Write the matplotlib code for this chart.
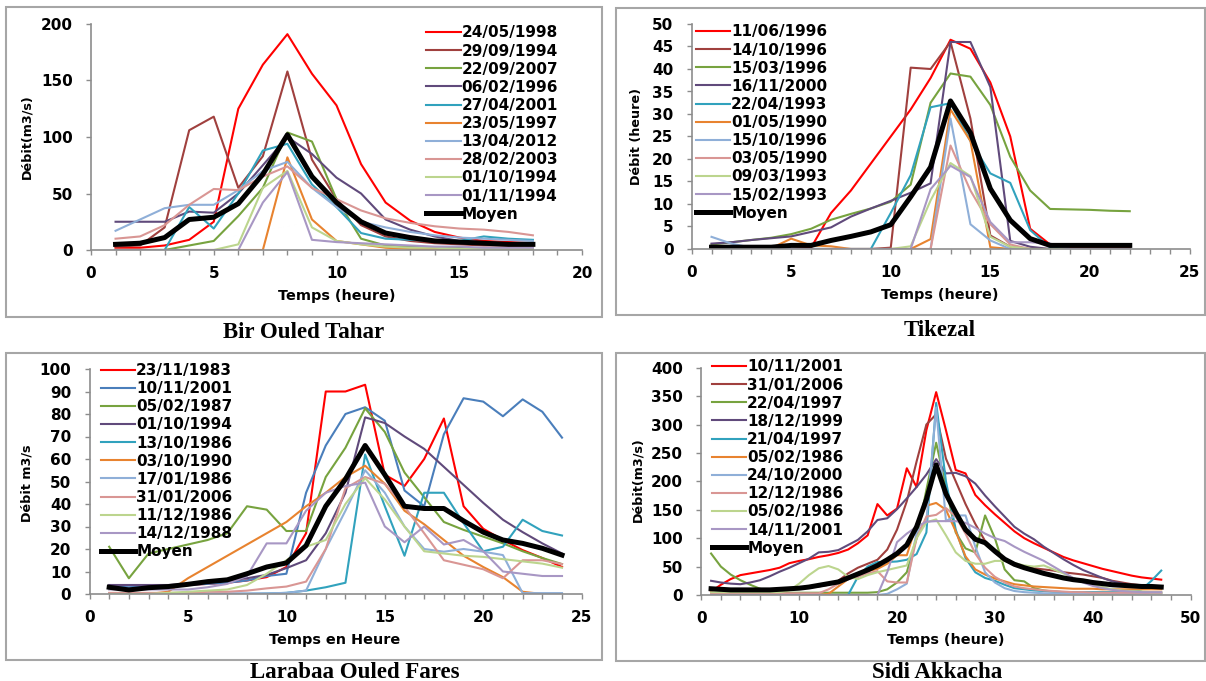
import matplotlib
matplotlib.use('Agg')
import matplotlib.pyplot as plt
from matplotlib.patches import Rectangle
from matplotlib.ticker import MultipleLocator

W, H = 1206, 681

# ---- Bir Ouled Tahar ----
hours_1 = list(range(1, 19))
labels_1 = ['24/05/1998', '29/09/1994', '22/09/2007', '06/02/1996', '27/04/2001',
            '23/05/1997', '13/04/2012', '28/02/2003', '01/10/1994', '01/11/1994']
q_1 = [
    [2, 2, 4, 9, 25, 125, 164, 191, 156, 128, 76, 42, 26, 16, 11, 8, 7, 6],
    [3, 4, 20, 106, 118, 55, 83, 158, 80, 45, 22, 12, 8, 6, 5, 4, 4, 4],
    [0, 0, 0, 4, 8, 30, 55, 104, 96, 45, 10, 4, 3, 2, 2, 1, 1, 1],
    [25, 25, 25, 34, 33, 50, 75, 100, 85, 64, 50, 27, 18, 12, 8, 7, 6, 5],
    [0, 0, 0, 38, 19, 50, 88, 94, 58, 38, 15, 10, 9, 8, 8, 12, 10, 9],
    [0, 0, 0, 0, 0, 0, 0, 82, 27, 8, 5, 2, 1, 1, 0, 0, 0, 0],
    [17, 27, 37, 40, 40, 53, 70, 78, 55, 38, 25, 20, 16, 13, 11, 10, 9, 8],
    [10, 12, 22, 40, 54, 53, 65, 74, 55, 45, 35, 28, 24, 21, 19, 18, 16, 13],
    [0, 0, 0, 0, 0, 5, 55, 70, 20, 8, 5, 3, 2, 2, 1, 1, 1, 1],
    [0, 0, 0, 0, 0, 0, 42, 69, 9, 7, 6, 5, 4, 3, 3, 2, 2, 2],
]
moyen_1 = [5, 6, 11, 27, 29, 41, 67, 102, 65, 42, 25, 15, 11, 8, 7, 6, 5, 5]

# ---- Tikezal ----
hours_2 = list(range(1, 23))
labels_2 = ['11/06/1996', '14/10/1996', '15/03/1996', '16/11/2000', '22/04/1993',
            '01/05/1990', '15/10/1996', '03/05/1990', '09/03/1993', '15/02/1993']
q_2 = [
    [0, 0, 0, 0, 0, 0.3, 8, 13, 19, 25, 31, 38, 46.5, 44.5, 37, 25, 4.5, 1, 0.5, 0.5, 0.5, 0.5],
    [0, 0, 0, 0, 0, 0, 0, 0, 0, 0.3, 40.3, 40, 46, 29, 3, 0.5, 0, 0, 0, 0, 0, 0],
    [1, 1.5, 2, 2.5, 3.3, 4.5, 6.5, 7.8, 9, 10.5, 14.3, 32.5, 39, 38.3, 32, 20.5, 13, 8.9, 8.8, 8.7, 8.5, 8.4],
    [1.2, 1.5, 2, 2.4, 2.8, 3.8, 4.8, 7.2, 9, 10.7, 12.5, 14.6, 46, 46, 36, 1.8, 0.5, 0, 0, 0, 0, 0],
    [0, 0, 0, 0, 0, 0, 0, 0, 0, 8, 16.4, 31.5, 32.4, 24, 16.8, 14.7, 4.2, 0.3, 0, 0, 0, 0],
    [0, 0, 0, 0.2, 2.3, 0.8, 0.6, 0, 0, 0, 0, 2.2, 31, 24, 0.4, 0, 0, 0, 0, 0, 0, 0],
    [2.7, 1.2, 0.3, 0, 0, 0, 0, 0, 0, 0, 0, 0, 29, 5.5, 1.9, 0, 0, 0, 0, 0, 0, 0],
    [0, 0, 0, 0, 0, 0, 0, 0, 0, 0, 0, 0, 23, 13, 5.5, 1, 0, 0, 0, 0, 0, 0],
    [0, 0, 0, 0, 0, 0, 0, 0, 0, 0, 0.6, 10.8, 19.1, 16.2, 2.7, 0.5, 0, 0, 0, 0, 0, 0],
    [0, 0, 0, 0, 0, 0, 0, 0, 0, 0, 0, 13.3, 18.5, 16, 6, 1.5, 1.5, 1.2, 0, 0, 0, 0],
]
moyen_2 = [0.4, 0.4, 0.4, 0.4, 0.8, 0.8, 1.9, 2.8, 3.8, 5.4, 11.6, 18.2, 32.9, 25.8,
           13.4, 6.4, 2.3, 0.8, 0.8, 0.8, 0.8, 0.8]

# ---- Larabaa Ouled Fares ----
hours_3 = list(range(1, 25))
labels_3 = ['23/11/1983', '10/11/2001', '05/02/1987', '01/10/1994', '13/10/1986',
            '03/10/1990', '17/01/1986', '31/01/2006', '11/12/1986', '14/12/1988']
q_3 = [
    [3.3, 1.8, 3, 3.5, 4, 4.5, 5, 6, 7.5, 12, 27, 90, 90, 93, 53, 48, 60, 78, 39, 29, 24, 19.5, 16, 12],
    [3.5, 3, 3.5, 3.5, 4, 4.5, 5, 6, 8, 9, 45, 66, 80, 83, 77, 46, 39, 71, 87, 85.5, 79, 86.5, 81, 69.5],
    [21, 7, 18, 20, 22, 24, 27, 39, 37.5, 28, 28, 52, 65, 82.5, 72, 54, 43, 32, 28.5, 25.5, 22.5, 19, 16, 13.3],
    [4, 4, 4, 4, 4.5, 5, 6, 7, 8.5, 11.5, 15, 27, 45, 78.5, 76, 70, 64.5, 56.5, 48.5, 40.5, 33, 27.5, 22.5, 18],
    [0, 0, 0, 0, 0, 0, 0, 0, 0.2, 0.5, 1.5, 3, 5, 62, 39, 17, 45, 45, 31.5, 19, 21, 33, 28, 26],
    [0, 0, 0, 1, 7, 12, 17, 22, 27, 32, 39, 45, 52, 57, 49, 37, 31, 24, 17, 12, 7.5, 1, 0, 0],
    [0.3, 0.3, 0.3, 0.3, 0.3, 0.3, 0.3, 0.3, 0.3, 0.5, 1.5, 20, 37, 55, 45, 30, 20, 18.8, 20, 18.8, 17.3, 0.4, 0.4, 0.4],
    [0.5, 0.5, 0.5, 0.5, 0.5, 1, 1, 1.5, 2.5, 3.3, 5.5, 20, 47, 52, 49, 38.8, 27, 15, 13, 11, 7, 15, 15, 13.3],
    [0, 0, 0, 0.5, 1, 1.5, 2, 4, 9, 15, 21, 24, 40, 51.5, 42, 30, 19, 18, 17, 16.5, 15.5, 14.5, 13.5, 11.7],
    [2, 2, 2, 2, 2, 3, 4.5, 8, 22.5, 22.5, 37, 45, 48, 49.5, 30, 23, 30, 22, 24, 19, 10, 9, 8, 8],
]
moyen_3 = [3, 1.8, 2.8, 3.3, 4.3, 5.5, 6.3, 9, 12, 13.8, 21.5, 39, 51, 66, 53, 39, 38, 38,
           32.5, 27.5, 24, 22.5, 20.3, 17.3]

# ---- Sidi Akkacha ----
hours_4 = list(range(1, 48))
labels_4 = ['10/11/2001', '31/01/2006', '22/04/1997', '18/12/1999', '21/04/1997',
            '05/02/1986', '24/10/2000', '12/12/1986', '05/02/1986', '14/11/2001']
q_4 = [
    [6, 18, 28, 35, 38, 41, 44, 48, 56, 60, 63, 67, 70, 74, 80, 91, 105, 160, 140, 152,
     223, 190, 290, 357, 290, 220, 214, 176, 158, 142, 127, 112, 100, 91, 83, 75, 67, 61,
     56, 51, 46, 42, 38, 34, 31, 29, 27],
    [12, 10, 9, 8, 8, 8, 9, 10, 11, 12, 13, 15, 18, 25, 38, 48, 55, 62, 80, 115, 165, 235,
     300, 318, 240, 200, 160, 125, 95, 75, 62, 55, 50, 47, 45, 43, 40, 38, 36, 33, 30, 25,
     22, 19, 17, 16, 15],
    [73, 50, 36, 26, 18, 11, 7, 5, 4, 4, 4, 4, 4, 4, 4, 4, 4, 5, 10, 22, 40, 100, 185,
     268, 190, 110, 82, 75, 140, 100, 45, 26, 24, 12, 8, 6, 5, 4, 4, 3, 3, 3, 3, 3, 3, 3, 3],
    [25, 22, 20, 19, 22, 26, 33, 41, 48, 56, 64, 75, 76, 79, 88, 97, 112, 132, 135, 151,
     170, 190, 212, 239, 214, 215, 209, 196, 175, 156, 138, 120, 108, 98, 85, 74, 63, 53,
     44, 37, 30, 24, 20, 16, 14, 13, 13],
    [0, 0, 0, 0, 0, 0, 0, 0, 0, 0, 0, 0, 0, 0, 0, 32, 50, 58, 58, 59, 62, 72, 110, 338,
     200, 115, 65, 40, 30, 25, 18, 12, 10, 8, 7, 6, 5, 5, 5, 5, 5, 5, 5, 6, 10, 25, 43],
    [0, 0, 0, 0, 0, 0, 0, 0, 0, 0, 0, 0, 2, 15, 28, 35, 42, 46, 55, 70, 70, 125, 157, 162,
     150, 112, 68, 45, 36, 29, 24, 19, 17, 15, 14, 13, 12, 11, 11, 11, 10, 10, 10, 10, 10,
     10, 10],
    [0, 0, 0, 0, 0, 0, 0, 0, 0, 0, 0, 0, 0, 0, 0, 0, 0, 0, 2, 10, 20, 110, 130, 330, 130,
     140, 140, 85, 40, 22, 12, 7, 5, 4, 3, 3, 3, 3, 3, 3, 3, 3, 3, 3, 3, 3, 3],
    [3, 3, 3, 3, 3, 3, 3, 3, 3, 3, 3, 3, 10, 20, 28, 32, 38, 42, 24, 22, 22, 100, 138, 141,
     153, 138, 108, 73, 48, 32, 22, 15, 12, 10, 8, 7, 6, 5, 5, 4, 4, 4, 4, 4, 4, 4, 4],
    [5, 5, 5, 5, 5, 5, 5, 5, 8, 20, 35, 47, 51, 45, 32, 28, 35, 40, 44, 48, 52, 100, 128,
     133, 105, 75, 60, 55, 55, 60, 60, 56, 52, 50, 52, 45, 38, 30, 24, 18, 14, 10, 8, 7,
     6, 5, 5],
    [0, 0, 0, 0, 0, 0, 0, 0, 0, 0, 0, 0, 0, 0, 0, 0, 0, 0, 40, 93, 108, 120, 129, 130, 130,
     130, 127, 118, 108, 100, 95, 85, 76, 68, 60, 50, 40, 30, 22, 16, 12, 9, 7, 6, 5, 5, 5],
]
moyen_4 = [11, 10, 9, 9, 9, 9, 9, 10, 11, 12, 14, 17, 20, 23, 30, 37, 44, 52, 62, 73, 88,
           120, 168, 229, 178, 145, 115, 98, 92, 77, 63, 54, 48, 43, 38, 34, 30, 27, 25, 22,
           20, 18, 17, 16, 15, 15, 14]

COLORS = ['#FF0000', '#A0403E', '#77A33F', '#604A7B', '#31A2BD',
          '#E8832F', '#8FAFD8', '#D99694', '#BCD58E', '#A897C4']
COLORS_3 = ['#FF0000', '#4A7EBB'] + COLORS[2:]

plt.rcParams['font.family'] = ['DejaVu Sans']
plt.rcParams['font.weight'] = 'bold'

fig = plt.figure(figsize=(W / 100, H / 100), dpi=100)


def frame(x0, y0, x1, y1):
    fig.add_artist(Rectangle((x0 / W, 1 - y1 / H), (x1 - x0) / W, (y1 - y0) / H,
                             transform=fig.transFigure, fill=False,
                             ec='#A6A6A6', lw=1.5))


def panel(box, xlim, ylim, xmaj, xmin, ymaj, hours, series, moyen, labels, colors,
          xlabel, ylabel, xlab_pos, ylab_pos, leg_xy, title, title_xy):
    x0, x1, yt, yb = box
    ax = fig.add_axes([x0 / W, 1 - yb / H, (x1 - x0) / W, (yb - yt) / H])
    for vals, lab, c in zip(series, labels, colors):
        ax.plot(hours, vals, color=c, lw=1.5, label=lab)
    ax.plot(hours, moyen, color='black', lw=3.6, label='Moyen')
    ax.set_xlim(*xlim)
    ax.set_ylim(*ylim)
    ax.xaxis.set_major_locator(MultipleLocator(xmaj))
    ax.xaxis.set_minor_locator(MultipleLocator(xmin))
    ax.yaxis.set_major_locator(MultipleLocator(ymaj))
    for s in ['top', 'right']:
        ax.spines[s].set_visible(False)
    for s in ['left', 'bottom']:
        ax.spines[s].set_color('#8C8C8C')
        ax.spines[s].set_linewidth(1.2)
    ax.tick_params(which='both', direction='out', color='#8C8C8C', length=3.6,
                   width=1, labelsize=11)
    ax.tick_params(axis='x', pad=8.0)
    ax.tick_params(axis='y', pad=9.5)
    ax.set_xlabel(xlabel, fontsize=10.4, fontweight='bold')
    ax.set_ylabel(ylabel, fontsize=9.2, fontweight='bold')
    ax.xaxis.set_label_coords(*xlab_pos)
    ax.xaxis.label.set_va('center')
    ax.yaxis.set_label_coords(*ylab_pos)
    ax.yaxis.label.set_va('center')
    ax.legend(loc='upper left', bbox_to_anchor=(leg_xy[0] / W, 1 - leg_xy[1] / H),
              bbox_transform=fig.transFigure, frameon=False, fontsize=11,
              handlelength=2.25, handletextpad=0.05, labelspacing=0.205,
              borderpad=0, borderaxespad=0)
    fig.text(title_xy[0] / W, 1 - title_xy[1] / H, title, ha='center', va='center',
             family='Liberation Serif', fontweight='bold', fontsize=16.5)
    return ax


frame(6, 7, 601.5, 317)
frame(615.5, 8, 1205, 315)
frame(6, 353, 601.5, 660)
frame(616, 353, 1205, 661)

panel((91, 582, 24, 250), (0, 20), (0, 200), 5, 1, 50, hours_1, q_1, moyen_1,
      labels_1, COLORS, 'Temps (heure)', 'Débit(m3/s)', (0.5, -0.2035), (-0.130, 0.5),
      (426.5, 25.4), 'Bir Ouled Tahar', (304, 332))
panel((691.6, 1189.5, 24, 249), (0, 25), (0, 50), 5, 1, 5, hours_2, q_2, moyen_2,
      labels_2, COLORS, 'Temps (heure)', 'Débit (heure)', (0.499, -0.204), (-0.110, 0.5),
      (696, 24.4), 'Tikezal', (940, 331))
panel((89.5, 581.7, 369, 594), (0, 25), (0, 100), 5, 1, 10, hours_3, q_3, moyen_3,
      labels_3, COLORS_3, 'Temps en Heure', 'Débit m3/s', (0.499, -0.204), (-0.127, 0.49),
      (101, 363), 'Larabaa Ouled Fares', (355, 672))
panel((701.3, 1190.6, 367.7, 595), (0, 50), (0, 400), 10, 2, 50, hours_4, q_4, moyen_4,
      labels_4, COLORS, 'Temps (heure)', 'Débit(m3/s)', (0.50, -0.198), (-0.130, 0.506),
      (712, 359.4), 'Sidi Akkacha', (937, 672))

fig.savefig('out.png', dpi=100, facecolor='white')
